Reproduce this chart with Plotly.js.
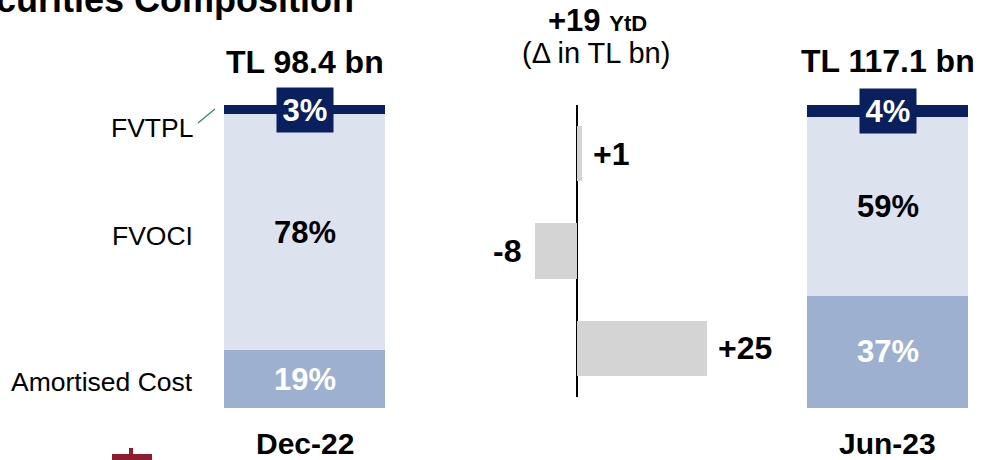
<!DOCTYPE html>
<html>
<head>
<meta charset="utf-8">
<script src="https://cdn.plot.ly/plotly-3.0.1.min.js"></script>
<style>html,body{margin:0;padding:0;background:#fff;}#chart{width:982px;height:460px;}</style>
</head>
<body>
<div id="chart"></div>
<script>
// ---- data ----
const periods = ["Dec-22", "Jun-23"];
const totalsBn = [98.4, 117.1];
const amortisedPct = [19, 37];
const fvociPct = [78, 59];
const fvtplPct = [3, 4];
const segmentNames = ["FVTPL", "FVOCI", "Amortised Cost"];
const deltaBn = [1, -8, 25];
const ytdDelta = 19;

// ---- styles ----
const FONT = "Liberation Sans, Arial, sans-serif";
const NAVY = "#0a1f5e", LIGHT = "#dde3ee", MID = "#9db0cf", GREY = "#d4d4d4";
const W = 982, TOP = 105, BOT = 408;
const px = x => x / W;
const py = y => (BOT - y) / (BOT - TOP);

const traces = [
  {type: "bar", x: periods, y: amortisedPct, name: "Amortised Cost", marker: {color: MID, line: {width: 0}}, width: 0.276, xaxis: "x", yaxis: "y"},
  {type: "bar", x: periods, y: fvociPct, name: "FVOCI", marker: {color: LIGHT, line: {width: 0}}, width: 0.276, xaxis: "x", yaxis: "y"},
  {type: "bar", x: periods, y: fvtplPct, name: "FVTPL", marker: {color: NAVY, line: {width: 0}}, width: 0.276, xaxis: "x", yaxis: "y"},
  {type: "bar", orientation: "h", x: deltaBn, y: segmentNames, marker: {color: GREY, line: {width: 0}}, width: 0.567, xaxis: "x2", yaxis: "y2"}
];

const ann = [];
// title (cropped at the top-left like the reference)
ann.push({xref: "paper", yref: "paper", x: px(356), y: py(0), xanchor: "right", yanchor: "middle",
  text: "<b>Securities Composition</b>", showarrow: false, font: {family: FONT, size: 36, color: "#000"}});
// totals and period labels
periods.forEach((p, i) => {
  ann.push({xref: "x", yref: "paper", x: p, y: py(i === 0 ? 62 : 61), yanchor: "middle", showarrow: false,
    text: "<b>TL " + totalsBn[i].toFixed(1) + " bn</b>", font: {family: FONT, size: 32, color: "#000"}});
  ann.push({xref: "x", yref: "paper", x: p, y: py(443), yanchor: "middle", showarrow: false,
    text: "<b>" + p + "</b>", font: {family: FONT, size: 30, color: "#000"}});
  // segment labels
  ann.push({xref: "x", yref: "y", x: p, y: amortisedPct[i] / 2, showarrow: false,
    text: "<b>" + amortisedPct[i] + "%</b>", font: {family: FONT, size: 31, color: "#fff"}});
  ann.push({xref: "x", yref: "y", x: p, y: amortisedPct[i] + fvociPct[i] / 2, showarrow: false,
    text: "<b>" + fvociPct[i] + "%</b>", font: {family: FONT, size: 31, color: "#000"}});
  ann.push({xref: "x", yref: "y", x: p, y: amortisedPct[i] + fvociPct[i] + fvtplPct[i] / 2, showarrow: false,
    text: "<b>" + fvtplPct[i] + "%</b>", font: {family: FONT, size: 31, color: "#fff"},
    bgcolor: NAVY, width: 54, height: 42, borderpad: 1});
});
// left category labels
const leftY = [128, 236, 382];
segmentNames.forEach((s, i) => {
  ann.push({xref: "paper", yref: "paper", x: px(195), y: py(leftY[i]), xanchor: "right", yanchor: "middle",
    showarrow: false, text: s, font: {family: FONT, size: 26.5, color: "#000"}});
});
// delta header
ann.push({xref: "paper", yref: "paper", x: px(597), y: py(20), yanchor: "middle", showarrow: false,
  text: "<b>+" + ytdDelta + " <span style='font-size:22px'>YtD</span></b>", font: {family: FONT, size: 31, color: "#000"}});
ann.push({xref: "paper", yref: "paper", x: px(596), y: py(53), yanchor: "middle", showarrow: false,
  text: "(\u0394 in TL bn)", font: {family: FONT, size: 29, color: "#000"}});
// delta value labels
deltaBn.forEach((v, i) => {
  ann.push({xref: "x2", yref: "y2", x: v, y: segmentNames[i], showarrow: false,
    xanchor: v >= 0 ? "left" : "right", xshift: v >= 0 ? 9 : -12,
    text: "<b>" + (v >= 0 ? "+" : "") + v + "</b>", font: {family: FONT, size: 32, color: "#000"}});
});

const shapes = [
  {type: "line", xref: "paper", yref: "paper", x0: px(198), y0: py(123), x1: px(215), y1: py(109),
    line: {color: "#2e8b57", width: 1.2}},
  // logo fragment bottom-left
  {type: "rect", xref: "paper", yref: "paper", x0: px(129), x1: px(133), y0: py(448), y1: py(461),
    fillcolor: "#8c1c2e", line: {width: 0}},
  {type: "rect", xref: "paper", yref: "paper", x0: px(112), x1: px(152), y0: py(454), y1: py(461),
    fillcolor: "#8c1c2e", line: {width: 0}}
];

const layout = {
  width: 982, height: 460,
  margin: {l: 0, r: 0, t: TOP, b: 460 - BOT, pad: 0},
  paper_bgcolor: "#fff", plot_bgcolor: "rgba(0,0,0,0)",
  barmode: "stack", showlegend: false,
  font: {family: FONT},
  xaxis: {domain: [0, 1], range: [-0.5223, 1.1621], showticklabels: false, showgrid: false, zeroline: false, showline: false, ticks: ""},
  yaxis: {domain: [0, 1], range: [0, 100], showticklabels: false, showgrid: false, zeroline: false, showline: false, ticks: ""},
  xaxis2: {domain: [px(480), px(780)], range: [-18.65, 39.04], anchor: "y2", showticklabels: false, showgrid: false,
    zeroline: true, zerolinecolor: "#000", zerolinewidth: 1.6, showline: false, ticks: ""},
  yaxis2: {domain: [py(397), 1], range: [2.5, -0.5], anchor: "x2", type: "category", showticklabels: false, showgrid: false,
    zeroline: false, showline: false, ticks: ""},
  annotations: ann,
  shapes: shapes
};

Plotly.newPlot("chart", traces, layout, {staticPlot: true, displayModeBar: false});
</script>
</body>
</html>
